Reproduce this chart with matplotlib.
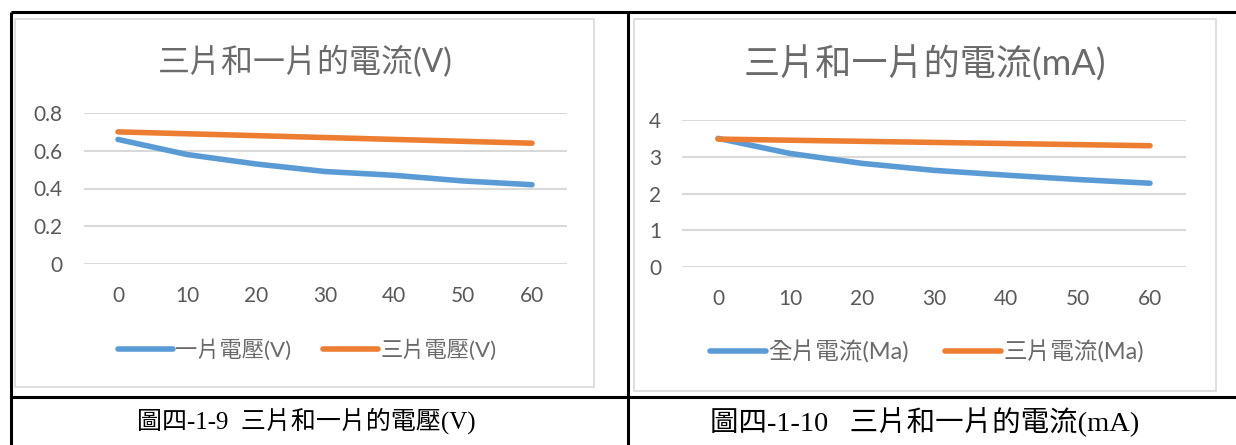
import matplotlib
matplotlib.use("Agg")
import matplotlib.pyplot as plt
from matplotlib.lines import Line2D
from matplotlib.patches import Rectangle

# ---- data ----
minutes = [0, 10, 20, 30, 40, 50, 60]
x_labels = ["0", "10", "20", "30", "40", "50", "60"]

one_piece_voltage = [0.66, 0.58, 0.53, 0.49, 0.47, 0.44, 0.42]
three_piece_voltage = [0.70, 0.69, 0.68, 0.67, 0.66, 0.65, 0.64]

full_piece_current = [3.50, 3.09, 2.82, 2.63, 2.50, 2.38, 2.28]
three_piece_current = [3.48, 3.45, 3.42, 3.39, 3.36, 3.33, 3.30]

voltage_ticks = [0, 0.2, 0.4, 0.6, 0.8]
voltage_tick_labels = ["0", "0.2", "0.4", "0.6", "0.8"]
current_ticks = [0, 1, 2, 3, 4]
current_tick_labels = ["0", "1", "2", "3", "4"]

left_title = "三片和一片的電流(V)"
right_title = "三片和一片的電流(mA)"
left_series_names = ["一片電壓(V)", "三片電壓(V)"]
right_series_names = ["全片電流(Ma)", "三片電流(Ma)"]
left_caption = "圖四-1-9  三片和一片的電壓(V)"
right_caption = "圖四-1-10   三片和一片的電流(mA)"

# ---- style ----
W, H = 1236, 445
BLUE = "#5B9BD5"
ORANGE = "#ED7D31"
GRID = "#D9D9D9"
TEXT = "#595959"
SANS = ["Lato", "Noto Sans CJK TC", "DejaVu Sans"]
SERIF = ["Liberation Serif", "Noto Sans CJK TC"]

fig = plt.figure(figsize=(W / 100, H / 100), dpi=100)
fig.patch.set_facecolor("white")

# overlay in pixel coordinates for the table rules and chart frames
ov = fig.add_axes([0, 0, 1, 1])
ov.set_xlim(0, W)
ov.set_ylim(H, 0)
ov.axis("off")
ov.set_zorder(-1)

# table rules
for (x0, y0, x1, y1) in [(11, 12, W, 12), (11, 397, W, 397),
                         (11, 12, 11, H), (628, 12, 628, H)]:
    ov.add_line(Line2D([x0, x1], [y0, y1], color="black", lw=2.2,
                       solid_capstyle="butt"))

# chart frames
ov.add_patch(Rectangle((14.5, 18.5), 579, 368, fill=False, ec=GRID, lw=1.2))
ov.add_patch(Rectangle((633.5, 18.5), 582, 372, fill=False, ec=GRID, lw=1.2))


def px_axes(left, right, top, bottom):
    return fig.add_axes([left / W, (H - bottom) / H,
                         (right - left) / W, (bottom - top) / H])


def style_chart(ax, yticks, ylabels, ylim, title, title_xy, title_size,
                legend_xy, legend_size, names, lines, handle_len, col_space):
    ax.set_xlim(-5, 65)
    ax.set_ylim(*ylim)
    ax.set_yticks(yticks)
    ax.set_yticklabels(ylabels)
    ax.set_xticks(minutes)
    ax.set_xticklabels(x_labels)
    ax.grid(axis="y", color=GRID, lw=1.5)
    ax.set_axisbelow(True)
    for s in ax.spines.values():
        s.set_visible(False)
    ax.tick_params(axis="both", length=0, labelsize=15, labelcolor=TEXT)
    ax.tick_params(axis="y", pad=15)
    ax.tick_params(axis="x", pad=16)
    for lab in ax.get_xticklabels() + ax.get_yticklabels():
        lab.set_fontfamily(SANS)
    ax.patch.set_alpha(0)
    fig.text(title_xy[0] / W, 1 - title_xy[1] / H, title, ha="center",
             va="center", fontsize=title_size, color="#6a6a6a", family=SANS)
    leg = ax.legend(lines, names, loc="center",
                    bbox_to_anchor=(legend_xy[0] / W, 1 - legend_xy[1] / H),
                    bbox_transform=fig.transFigure, ncol=2, frameon=False,
                    handlelength=handle_len, handletextpad=0.1,
                    columnspacing=col_space,
                    prop={"family": SANS, "size": legend_size})
    for t in leg.get_texts():
        t.set_color("#6a6a6a")


LW = 4.0

# left chart: voltage
axL = px_axes(83.5, 566.5, 113, 264)
l1, = axL.plot(minutes, one_piece_voltage, color=BLUE, lw=LW,
               solid_capstyle="round", solid_joinstyle="round")
l2, = axL.plot(minutes, three_piece_voltage, color=ORANGE, lw=LW,
               solid_capstyle="round", solid_joinstyle="round")
style_chart(axL, voltage_ticks, voltage_tick_labels, (0, 0.8), left_title,
            (305, 62), 23, (307, 350), 16, left_series_names, [l1, l2],
            2.5, 1.4)

# right chart: current
axR = px_axes(682, 1186, 120, 267)
r1, = axR.plot(minutes, full_piece_current, color=BLUE, lw=LW,
               solid_capstyle="round", solid_joinstyle="round")
r2, = axR.plot(minutes, three_piece_current, color=ORANGE, lw=LW,
               solid_capstyle="round", solid_joinstyle="round")
style_chart(axR, current_ticks, current_tick_labels, (0, 4), right_title,
            (925, 64), 26, (927, 352), 17, right_series_names, [r1, r2],
            2.4, 1.5)

# captions
fig.text(306 / W, 1 - 421 / H, left_caption, ha="center", va="center",
         fontsize=18, color="black", family=SERIF)
fig.text(925 / W, 1 - 421 / H, right_caption, ha="center", va="center",
         fontsize=20.5, color="black", family=SERIF)

fig.savefig("out.png", dpi=100)
